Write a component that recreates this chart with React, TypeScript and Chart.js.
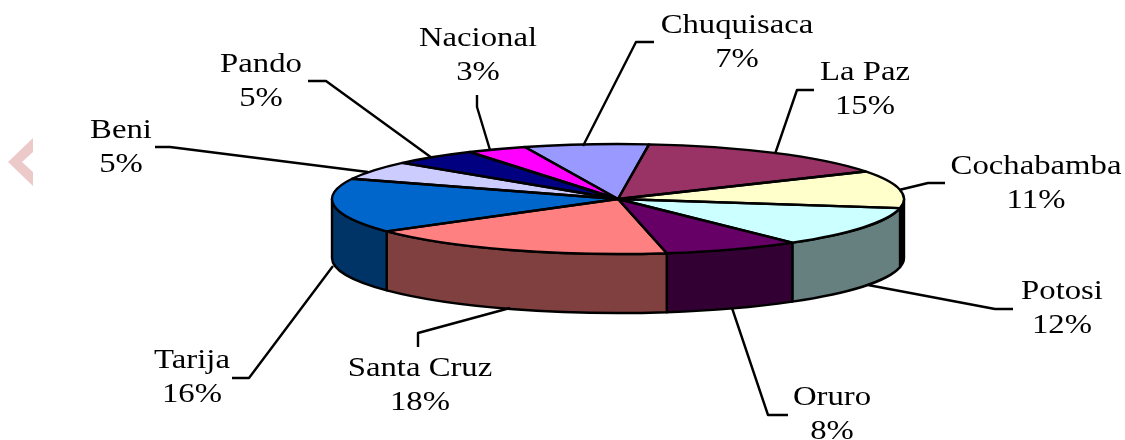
import React, { useEffect, useRef } from "react";
import { Chart, registerables } from "chart.js";

Chart.register(...registerables);

const categories = ["Chuquisaca", "La Paz", "Cochabamba", "Potosi", "Oruro", "Santa Cruz", "Tarija", "Beni", "Pando", "Nacional"];
const shares = [7.0, 14.9, 11.0, 11.9, 7.7, 17.7, 16.0, 5.4, 4.9, 3.4];
const percentLabels = ["7%", "15%", "11%", "12%", "8%", "18%", "16%", "5%", "5%", "3%"];
const topColors = ["#9999FF", "#993366", "#FFFFCC", "#CCFFFF", "#660066", "#FF8080", "#0066CC", "#CCCCFF", "#000080", "#FF00FF"];
const sideColors = ["#4D4D80", "#4D1A33", "#000000", "#668080", "#330033", "#804040", "#003366", "#666680", "#000040", "#800080"];

// label centre x, first baseline y
const labelAnchors: [number, number][] = [
  [737, 33], [865, 80], [1036, 174], [1062, 299], [832, 405],
  [420, 376], [192, 368], [121, 138], [261, 72], [478, 46],
];
// leader polylines, per label
const leaders: [number, number][][] = [
  [[654, 42], [636, 42], [583, 146]],
  [[814, 90], [797, 90], [775, 154]],
  [[945, 183], [928, 183], [899, 190]],
  [[1013, 309], [995, 309], [868, 285]],
  [[788, 415], [768, 415], [732, 308]],
  [[418, 347], [418, 333], [510, 308]],
  [[232, 378], [249, 378], [333, 266]],
  [[155, 147], [170, 147], [368, 172]],
  [[308, 81], [326, 81], [432, 158]],
  [[477, 95], [477, 107], [490, 150]],
];
const chevron: [number, number][] = [[33, 138], [8, 162], [33, 186], [33, 172], [22, 162], [33, 152]];

const RADIUS = 286;
const SQUASH = 0.1923;
const DEPTH = 59;
const LINE = 2.4;

const pie3d = {
  id: "pie3d",
  beforeDatasetsDraw(chart: any) {
    const ctx = chart.ctx;
    const arcs = chart.getDatasetMeta(0).data;
    ctx.save();
    ctx.fillStyle = "#ECCACA";
    ctx.beginPath();
    chevron.forEach(([x, y], i) => (i ? ctx.lineTo(x, y) : ctx.moveTo(x, y)));
    ctx.closePath();
    ctx.fill();

    ctx.lineWidth = LINE;
    ctx.strokeStyle = "#000";
    ctx.lineJoin = "round";
    arcs.forEach((arc: any, i: number) => {
      const a1 = Math.max(arc.startAngle, 0);
      const a2 = Math.min(arc.endAngle, Math.PI);
      if (a2 <= a1) return;
      const rx = arc.outerRadius;
      const ry = rx * SQUASH;
      ctx.beginPath();
      ctx.ellipse(arc.x, arc.y, rx, ry, 0, a1, a2);
      ctx.ellipse(arc.x, arc.y + DEPTH, rx, ry, 0, a2, a1, true);
      ctx.closePath();
      ctx.fillStyle = sideColors[i];
      ctx.fill();
      ctx.stroke();
    });
    ctx.restore();

    const { x, y } = arcs[0];
    ctx.save();
    ctx.translate(x, y);
    ctx.scale(1, SQUASH);
    ctx.translate(-x, -y);
  },
  afterDatasetsDraw(chart: any) {
    const ctx = chart.ctx;
    ctx.restore();
    const arcs = chart.getDatasetMeta(0).data;

    ctx.save();
    ctx.lineWidth = LINE;
    ctx.strokeStyle = "#000";
    ctx.lineJoin = "round";
    arcs.forEach((arc: any) => {
      ctx.beginPath();
      ctx.moveTo(arc.x, arc.y);
      ctx.ellipse(arc.x, arc.y, arc.outerRadius, arc.outerRadius * SQUASH, 0, arc.startAngle, arc.endAngle);
      ctx.closePath();
      ctx.stroke();
    });

    leaders.forEach((pts) => {
      ctx.beginPath();
      pts.forEach(([px, py], i) => (i ? ctx.lineTo(px, py) : ctx.moveTo(px, py)));
      ctx.stroke();
    });

    ctx.fillStyle = "#000";
    ctx.textAlign = "center";
    ctx.textBaseline = "alphabetic";
    ctx.font = '27.5px "Liberation Serif"';
    categories.forEach((name, i) => {
      const [lx, ly] = labelAnchors[i];
      [name, percentLabels[i]].forEach((line, j) => {
        ctx.save();
        ctx.translate(lx, ly + j * 34);
        ctx.scale(1.19, 1);
        ctx.fillText(line, 0, 0);
        ctx.restore();
      });
    });
    ctx.restore();
  },
};

export default function App() {
  const ref = useRef<HTMLCanvasElement>(null);
  useEffect(() => {
    document.body.style.margin = "0";
    const chart = new Chart(ref.current!, {
      type: "pie",
      data: {
        labels: categories,
        datasets: [{ data: shares, backgroundColor: topColors, borderWidth: 0, radius: RADIUS } as any],
      },
      options: {
        responsive: false,
        animation: false,
        rotation: -19,
        layout: { padding: { left: 111, bottom: 42 } },
        plugins: { legend: { display: false }, tooltip: { enabled: false } },
      },
      plugins: [pie3d],
    });
    return () => chart.destroy();
  }, []);
  return <canvas ref={ref} width={1125} height={440} style={{ display: "block", background: "#fff" }} />;
}
